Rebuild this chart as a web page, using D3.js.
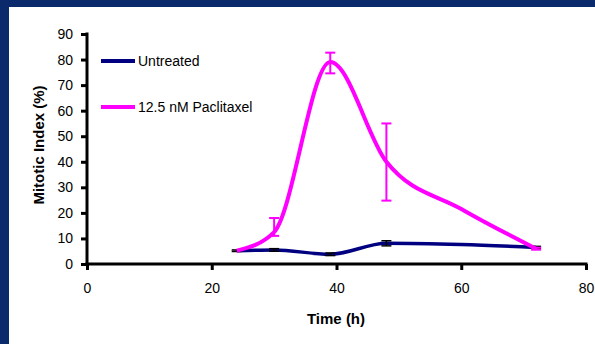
<!DOCTYPE html>
<html>
<head>
<meta charset="utf-8">
<script src="https://cdn.jsdelivr.net/npm/d3@7"></script>
<style>
  body { margin: 0; background: #0b2a6b; }
  svg { display: block; }
</style>
</head>
<body>
<script>
// data
const hours = [24, 30, 39, 48, 60, 72];
const untreated = [5.2, 5.5, 3.8, 8.1, 7.6, 6.5];
const untreatedErr = [0.3, 0.5, 0.5, 1, 0, 0.4];
const paclitaxel = [5.2, 12.5, 79, 40, 21.5, 6];
const paclitaxelLow = [5.2, 11, 74.6, 24.8, 21.5, 5.6];
const paclitaxelHigh = [5.2, 18, 82.7, 55, 21.5, 6.4];
const xTicks = [0, 20, 40, 60, 80];
const yTicks = [0, 10, 20, 30, 40, 50, 60, 70, 80, 90];
const seriesNames = ['Untreated', '12.5 nM Paclitaxel'];
const seriesColors = ['#000080', '#ff00ff'];

const width = 595;
const height = 344;

const svg = d3.select('body')
    .append('svg')
    .attr('width', width)
    .attr('height', height);

// navy frame, white slide area
svg.append('rect')
    .attr('width', width).attr('height', height)
    .attr('fill', '#0b2a6b');
svg.append('rect')
    .attr('x', 9).attr('y', 7)
    .attr('width', width - 9).attr('height', height - 7)
    .attr('fill', '#ffffff');

const x = d3.scaleLinear().domain([0, 80]).range([87, 586]);
const y = d3.scaleLinear().domain([0, 90]).range([264, 34]);

const font = 'Liberation Sans, Arial, sans-serif';

// axes
const xAxis = svg.append('g')
    .attr('transform', 'translate(0,' + y(0) + ')')
    .call(d3.axisBottom(x).tickValues(xTicks).tickSize(6).tickPadding(13).tickSizeOuter(0));
const yAxis = svg.append('g')
    .attr('transform', 'translate(' + x(0) + ',0)')
    .call(d3.axisLeft(y).tickValues(yTicks).tickSize(6).tickPadding(8).tickSizeOuter(0));

[xAxis, yAxis].forEach(g => {
    g.select('.domain').attr('stroke', '#000').attr('stroke-width', 3);
    g.selectAll('.tick line').attr('stroke', '#000').attr('stroke-width', 3);
    g.selectAll('.tick text')
        .attr('fill', '#000')
        .style('font-family', font)
        .style('font-size', '14px');
});
xAxis.select('.domain').attr('d', 'M' + (x(0) - 1.5) + ',0H' + (x(80) + 1.5));
yAxis.select('.domain').attr('d', 'M0,' + (y(0) + 1.5) + 'V' + (y(90) - 1.5));

// axis titles
svg.append('text')
    .attr('transform', 'translate(44,145) rotate(-90)')
    .attr('text-anchor', 'middle')
    .style('font-family', font)
    .style('font-size', '15px')
    .style('font-weight', 'bold')
    .text('Mitotic Index (%)');
svg.append('text')
    .attr('x', 336).attr('y', 324)
    .attr('text-anchor', 'middle')
    .style('font-family', font)
    .style('font-size', '15px')
    .style('font-weight', 'bold')
    .text('Time (h)');

// smoothed lines
const line = d3.line()
    .x(d => x(d[0]))
    .y(d => y(d[1]))
    .curve(d3.curveMonotoneX);

const untreatedPts = hours.map((h, i) => [h, untreated[i]]);
const paclitaxelPts = hours.map((h, i) => [h, paclitaxel[i]]);

svg.append('path')
    .attr('d', line(untreatedPts))
    .attr('fill', 'none')
    .attr('stroke', seriesColors[0])
    .attr('stroke-width', 3.5);

// untreated error bars (dark)
const ue = svg.append('g').attr('stroke', '#000').attr('stroke-width', 1.5);
hours.forEach((h, i) => {
    if (!untreatedErr[i]) return;
    const cx = x(h);
    const lo = y(untreated[i] - untreatedErr[i]);
    const hi = y(untreated[i] + untreatedErr[i]);
    ue.append('line').attr('x1', cx).attr('x2', cx).attr('y1', lo).attr('y2', hi);
    ue.append('line').attr('x1', cx - 5).attr('x2', cx + 5).attr('y1', lo).attr('y2', lo);
    ue.append('line').attr('x1', cx - 5).attr('x2', cx + 5).attr('y1', hi).attr('y2', hi);
});

svg.append('path')
    .attr('d', line(paclitaxelPts))
    .attr('fill', 'none')
    .attr('stroke', seriesColors[1])
    .attr('stroke-width', 4);

const pe = svg.append('g').attr('stroke', seriesColors[1]).attr('stroke-width', 2);
hours.forEach((h, i) => {
    if (paclitaxelHigh[i] === paclitaxelLow[i]) return;
    const cx = x(h);
    const lo = y(paclitaxelLow[i]);
    const hi = y(paclitaxelHigh[i]);
    pe.append('line').attr('x1', cx).attr('x2', cx).attr('y1', lo).attr('y2', hi);
    pe.append('line').attr('x1', cx - 5).attr('x2', cx + 5).attr('y1', lo).attr('y2', lo);
    pe.append('line').attr('x1', cx - 5).attr('x2', cx + 5).attr('y1', hi).attr('y2', hi);
});

// legend
const legend = svg.append('g');
seriesNames.forEach((name, i) => {
    const ly = 61 + i * 46;
    legend.append('line')
        .attr('x1', 101).attr('x2', 135)
        .attr('y1', ly).attr('y2', ly)
        .attr('stroke', seriesColors[i])
        .attr('stroke-width', 4);
    legend.append('text')
        .attr('x', 138).attr('y', ly + 5)
        .style('font-family', font)
        .style('font-size', '14px')
        .text(name);
});
</script>
</body>
</html>
